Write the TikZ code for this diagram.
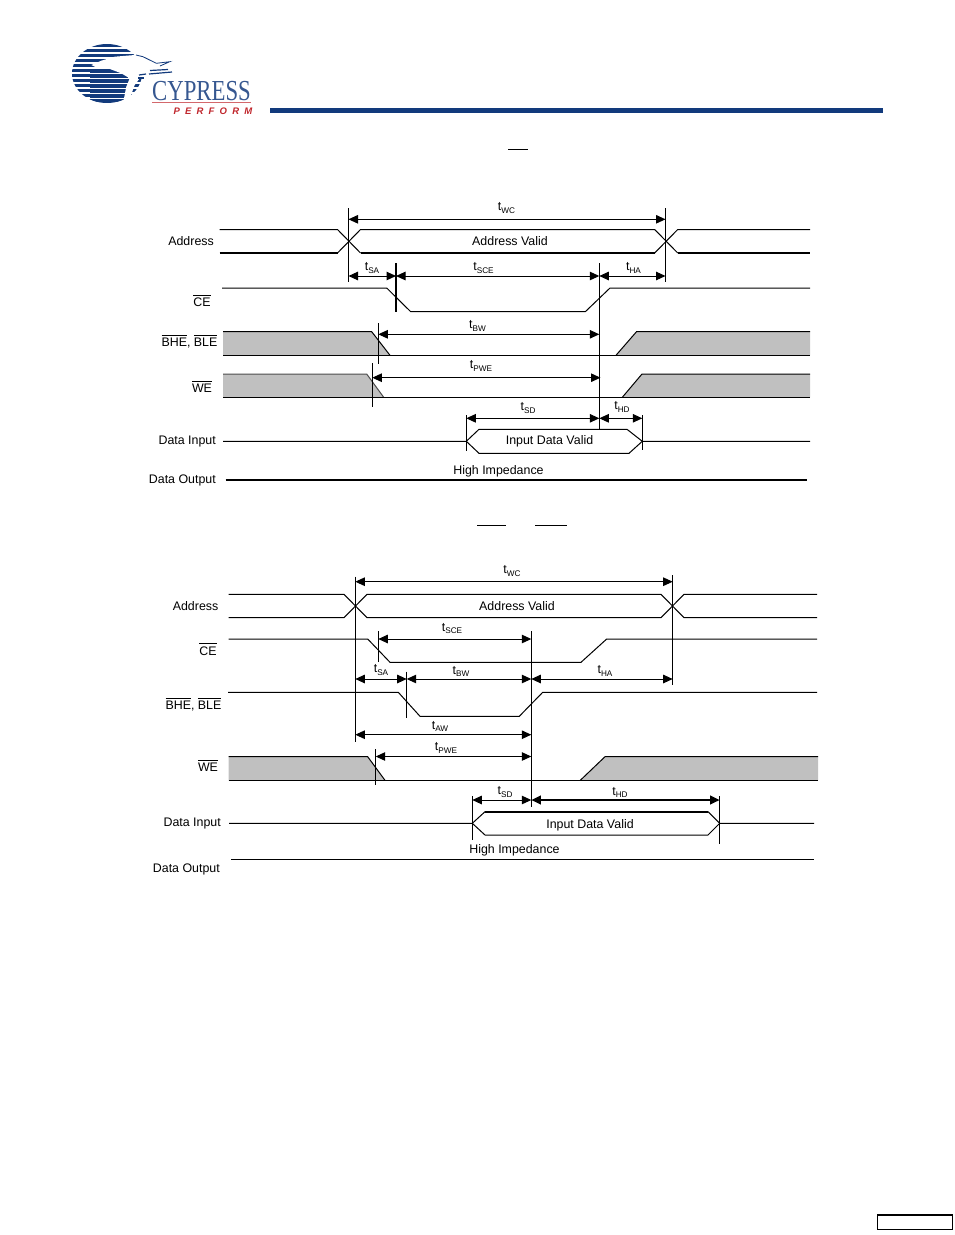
\documentclass[tikz,border=0pt]{standalone}
\usepackage{fontspec}
\setmainfont{Liberation Sans}
\newfontfamily\logoserif{Liberation Serif}
\usetikzlibrary{arrows.meta}
\definecolor{cyblue}{HTML}{123A7C}
\definecolor{cyred}{HTML}{C0272D}
\definecolor{wavegray}{HTML}{C0C0C0}
\def\tsub#1{t\raisebox{-2.4pt}{\fontsize{8.2}{8.2}\selectfont #1}}
\def\ovl#1{\leavevmode\vbox{\hrule height 0.9pt \kern 2pt \hbox{#1}}}
\tikzset{
	wave/.style={line width=1pt, line join=miter},
	thickwave/.style={line width=2pt},
	marker/.style={line width=1pt},
	tarrow/.style={line width=1pt, {Triangle[length=9.5pt,width=8.5pt]}-{Triangle[length=9.5pt,width=8.5pt]}},
	lab/.style={font=\fontsize{12.4}{15}\selectfont, inner sep=0pt},
	sig/.style={lab, anchor=base east},
	txt/.style={lab, anchor=base},
}

\begin{document}
\begin{tikzpicture}[x=1pt, y=-1pt]
		\useasboundingbox (0, 0) rectangle (954, 1235);
		
		%%%%% LOGO %%%%%
		
		\begin{scope}
			\clip (107, 73.5) ellipse (35 and 29.5);
			\foreach \yy in {44,49,...,104}
				\fill[cyblue] (70, \yy) rectangle (145, \yy+3);
			\foreach \yy in {69,74,...,104}
				\fill[cyblue] (90, \yy-0.5) rectangle (128, \yy+3.7);
		\end{scope}
		\fill[white] (91.3, 65) -- (101.3, 60.7) -- (114.7, 56.7) -- (134.7, 55) -- (143, 56.7) -- (156.3, 63.3) -- (169.7, 61.7) -- (159.7, 68.3) -- (148, 76.7) -- (139.7, 78.3) -- (134.7, 85) -- (128, 103.3) -- (123, 103.3) -- (126.3, 86.7) -- (129.7, 78.3) -- (121.3, 73.3) -- (108, 68.3) -- (98, 68.3) -- cycle;
		\draw[line width=0.8pt, color=cyblue] (136, 55) -- (143, 56.7) -- (156.3, 63.3) -- (169.7, 61.7) -- (160, 66);
		\draw[line width=1.2pt, color=cyblue] (150, 70.5) -- (168, 69.5);
		\draw[line width=1.2pt, color=cyblue] (149, 74) -- (172, 72);
		\draw[line width=1.2pt, color=cyblue] (139, 75) -- (146, 74);
		\draw[line width=1.2pt, color=cyblue] (138, 78) -- (144, 78);
		
		\node (cylogo) [anchor=base west, inner sep=0pt, text=cyblue!85, font=\logoserif\fontsize{29}{30}\selectfont, xscale=0.785, transform shape] at (152, 100) {CYPRESS};
		\draw[line width=0.7pt, color=cyred!70] (152, 102.7) -- (251, 102.7);
		\node (cyperform) [anchor=base east, inner sep=0pt, text=cyred, font=\fontsize{9.5}{10}\selectfont\bfseries\itshape] at (252.5, 114.5) {P\hspace{5.2pt}E\hspace{5.2pt}R\hspace{5.2pt}F\hspace{5.2pt}O\hspace{5.2pt}R\hspace{5.2pt}M};
		
		\fill[cyblue] (270, 108) rectangle (883, 113);
		\draw[line width=1pt] (508, 149) -- (528, 149);
		\draw[line width=1pt] (477, 525) -- (506, 525);
		\draw[line width=1pt] (535, 525) -- (567, 525);
		
		%%%%% FIRST DIAGRAM %%%%%
		
		\coordinate (mkA) at (348.5, 0);
		\coordinate (mkB) at (665.5, 0);
		\coordinate (mkC) at (396, 0);
		\coordinate (mkD) at (599.3, 0);
		\coordinate (mkE) at (378.3, 0);
		\coordinate (mkF) at (372.3, 0);
		\coordinate (mkG) at (466.3, 0);
		\coordinate (mkH) at (642.3, 0);
		
		\fill[wavegray] (223, 331.7) -- (371.7, 331.7) -- (390, 355.3) -- (223, 355.3) -- cycle;
		\fill[wavegray] (616, 355.3) -- (636.5, 331.7) -- (810, 331.7) -- (810, 355.3) -- cycle;
		\fill[wavegray] (223, 374) -- (366.7, 374) -- (383.7, 397.3) -- (223, 397.3) -- cycle;
		\fill[wavegray] (622.3, 397.3) -- (642, 374) -- (810, 374) -- (810, 397.3) -- cycle;
		
		\draw[wave] (219.5, 229.5) -- (337.5, 229.5) -- (360.5, 253);
		\draw[wave] (337.5, 253) -- (360.5, 229.5) -- (654.7, 229.5) -- (677.7, 253);
		\draw[wave] (654.7, 253) -- (677.7, 229.5) -- (810, 229.5);
		\draw[thickwave] (219.5, 253) -- (337.5, 253);
		\draw[thickwave] (360.5, 253) -- (654.7, 253);
		\draw[thickwave] (677.7, 253) -- (810, 253);
		
		\draw[wave] (222, 288) -- (386.7, 288) -- (410.7, 311.7) -- (585.3, 311.7) -- (610, 288) -- (810, 288);
		\draw[wave] (223, 331.7) -- (371.7, 331.7) -- (390, 355.3);
		\draw[wave] (223, 355.3) -- (810, 355.3);
		\draw[wave] (616, 355.3) -- (636.5, 331.7) -- (810, 331.7);
		\draw[wave, color=black!70] (223, 374) -- (366.7, 374) -- (383.7, 397.3);
		\draw[wave] (223, 397.3) -- (810, 397.3);
		\draw[wave] (622.3, 397.3) -- (642, 374) -- (810, 374);
		
		\draw[wave] (223, 441.3) -- (466.3, 441.3) -- (479, 429.3) -- (627, 429.3) -- (642.3, 441.3) -- (810, 441.3);
		\draw[wave] (466.3, 441.3) -- (479, 453.3) -- (629, 453.3) -- (642.3, 441.3);
		\draw[thickwave] (225.5, 480) -- (807, 480);
		
		\draw[marker] (mkA |- 0, 208) -- (mkA |- 0, 282);
		\draw[marker] (mkB |- 0, 208) -- (mkB |- 0, 282);
		\draw[line width=2pt] (mkC |- 0, 263) -- (mkC |- 0, 312);
		\draw[marker] (mkD |- 0, 263) -- (mkD |- 0, 429.6);
		\draw[marker] (mkE |- 0, 323) -- (mkE |- 0, 363.7);
		\draw[marker] (mkF |- 0, 363) -- (mkF |- 0, 407);
		\draw[marker] (mkG |- 0, 415) -- (mkG |- 0, 451);
		\draw[marker] (mkH |- 0, 415) -- (mkH |- 0, 450);
		
		\draw[tarrow] (mkA |- 0, 219.3) -- (mkB |- 0, 219.3);
		\draw[tarrow] (mkA |- 0, 276) -- (mkC |- 0, 276);
		\draw[tarrow] (mkC |- 0, 276) -- (mkD |- 0, 276);
		\draw[tarrow] (mkD |- 0, 276) -- (mkB |- 0, 276);
		\draw[tarrow] (mkE |- 0, 334.3) -- (mkD |- 0, 334.3);
		\draw[tarrow] (mkF |- 0, 377.7) -- (600.5, 377.7);
		\draw[tarrow] (mkG |- 0, 418.3) -- (mkD |- 0, 418.3);
		\draw[tarrow] (mkD |- 0, 418.3) -- (mkH |- 0, 418.3);
		
		\node (adrA) [sig] at (214, 245.7) {Address};
		\node (ceA) [txt] at (202, 306.7) {\ovl{CE}};
		\node (bheA) [txt] at (189.5, 346) {\ovl{BHE}, \ovl{BLE}};
		\node (weA) [txt] at (202, 392.3) {\ovl{WE}};
		\node (dinA) [sig] at (216, 444) {Data Input};
		\node (doutA) [sig] at (216, 483.3) {Data Output};
		\node (validA) [txt] at (510, 245) {Address Valid};
		\node (inputA) [txt] at (549.5, 444) {Input Data Valid};
		\node (impA) [txt] at (498.5, 474.3) {High Impedance};
		\node (twcA) [lab] at (506.5, 208) {\tsub{WC}};
		\node (tsaA) [lab] at (372, 268) {\tsub{SA}};
		\node (tsceA) [lab] at (483.5, 268) {\tsub{SCE}};
		\node (thaA) [lab] at (633.5, 268) {\tsub{HA}};
		\node (tbwA) [lab] at (477.5, 326) {\tsub{BW}};
		\node (tpweA) [lab] at (481, 366) {\tsub{PWE}};
		\node (tsdA) [lab] at (528, 408) {\tsub{SD}};
		\node (thdA) [lab] at (622, 407) {\tsub{HD}};
		
		%%%%% SECOND DIAGRAM %%%%%
		
		\coordinate (mkK) at (355.3, 0);
		\coordinate (mkL) at (672.7, 0);
		\coordinate (mkM) at (378.3, 0);
		\coordinate (mkN) at (531.3, 0);
		\coordinate (mkP) at (406.7, 0);
		\coordinate (mkQ) at (375.7, 0);
		\coordinate (mkR) at (472.3, 0);
		\coordinate (mkS) at (719.7, 0);
		
		\fill[wavegray] (228.7, 756.7) -- (367.7, 756.7) -- (385, 780.3) -- (228.7, 780.3) -- cycle;
		\fill[wavegray] (580.3, 780.3) -- (605, 756.7) -- (818, 756.7) -- (818, 780.3) -- cycle;
		
		\draw[wave] (228.7, 594.3) -- (344, 594.3) -- (367, 617.7) -- (661, 617.7) -- (684, 594.3) -- (817, 594.3);
		\draw[wave] (228.7, 617.7) -- (344, 617.7) -- (367, 594.3) -- (661, 594.3) -- (684, 617.7) -- (817, 617.7);
		\draw[wave] (228.7, 639) -- (367.7, 639) -- (390, 662.3) -- (581, 662.3) -- (606.7, 639) -- (817, 639);
		\draw[wave] (228, 692.3) -- (398.3, 692.3) -- (420, 716.3) -- (519.3, 716.3) -- (542.7, 692.3) -- (817, 692.3);
		\draw[wave] (228.7, 756.7) -- (367.7, 756.7) -- (385, 780.3);
		\draw[wave] (228.7, 780.3) -- (818, 780.3);
		\draw[wave] (580.3, 780.3) -- (605, 756.7) -- (818, 756.7);
		
		\draw[wave] (229, 823.3) -- (472.3, 823.3) -- (485, 835) -- (708, 835) -- (719.7, 823.3) -- (814, 823.3);
		\draw[wave] (472.3, 823.3) -- (485, 811.7);
		\draw[wave] (708, 811.7) -- (719.7, 823.3);
		\draw[thickwave] (485, 811.7) -- (708, 811.7);
		\draw[wave] (231.3, 859.3) -- (814, 859.3);
		
		\draw[marker] (mkK |- 0, 576.7) -- (mkK |- 0, 741.7);
		\draw[marker] (mkL |- 0, 575) -- (mkL |- 0, 685);
		\draw[marker] (mkM |- 0, 631) -- (mkM |- 0, 662);
		\draw[marker] (mkN |- 0, 631) -- (mkN |- 0, 806.7);
		\draw[marker] (mkP |- 0, 671.7) -- (mkP |- 0, 717.7);
		\draw[marker] (mkQ |- 0, 749.3) -- (mkQ |- 0, 785.3);
		\draw[marker] (mkR |- 0, 796) -- (mkR |- 0, 840);
		\draw[marker] (mkS |- 0, 796) -- (mkS |- 0, 844);
		
		\draw[tarrow] (mkK |- 0, 581.7) -- (mkL |- 0, 581.7);
		\draw[tarrow] (mkM |- 0, 639) -- (mkN |- 0, 639);
		\draw[tarrow] (mkK |- 0, 679) -- (mkP |- 0, 679);
		\draw[tarrow] (mkP |- 0, 679) -- (mkN |- 0, 679);
		\draw[tarrow] (mkN |- 0, 679) -- (mkL |- 0, 679);
		\draw[tarrow] (mkK |- 0, 734.7) -- (mkN |- 0, 734.7);
		\draw[tarrow] (mkQ |- 0, 756.5) -- (mkN |- 0, 756.5);
		\draw[tarrow] (mkR |- 0, 800) -- (mkN |- 0, 800);
		\draw[tarrow, line width=2pt] (mkN |- 0, 800) -- (mkS |- 0, 800);
		
		\node (adrB) [sig] at (218.5, 610) {Address};
		\node (ceB) [txt] at (208, 655) {\ovl{CE}};
		\node (bheB) [txt] at (193.5, 709) {\ovl{BHE}, \ovl{BLE}};
		\node (weB) [txt] at (208, 771.7) {\ovl{WE}};
		\node (dinB) [sig] at (221, 826.7) {Data Input};
		\node (doutB) [sig] at (220, 872.3) {Data Output};
		\node (validB) [txt] at (517, 610) {Address Valid};
		\node (inputB) [txt] at (590, 828.3) {Input Data Valid};
		\node (impB) [txt] at (514.5, 853.3) {High Impedance};
		\node (twcB) [lab] at (512, 571) {\tsub{WC}};
		\node (tsceB) [lab] at (452, 628.5) {\tsub{SCE}};
		\node (tsaB) [lab] at (381, 670) {\tsub{SA}};
		\node (tbwB) [lab] at (461, 671.5) {\tsub{BW}};
		\node (thaB) [lab] at (605, 671) {\tsub{HA}};
		\node (tawB) [lab] at (440, 726.5) {\tsub{AW}};
		\node (tpweB) [lab] at (446, 748) {\tsub{PWE}};
		\node (tsdB) [lab] at (505, 792) {\tsub{SD}};
		\node (thdB) [lab] at (620, 792.5) {\tsub{HD}};
		
		%%%%% FOOTER BOX %%%%%
		
		\draw[line width=1.5pt] (877.5, 1215) rectangle (952.3, 1229.7);
		
		%%%%% END %%%%%
\end{tikzpicture}
\end{document}
